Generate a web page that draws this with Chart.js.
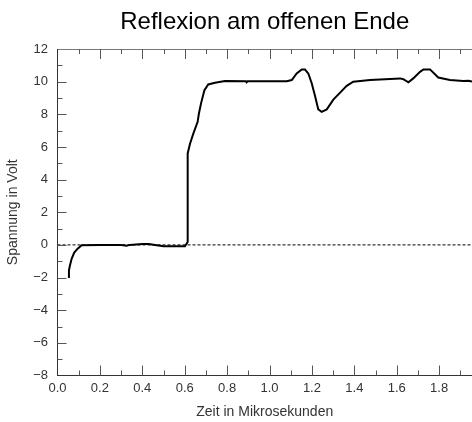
<!DOCTYPE html>
<html>
<head>
<meta charset="utf-8">
<script src="https://cdn.jsdelivr.net/npm/chart.js@4/dist/chart.umd.min.js"></script>
<style>
  html, body { margin: 0; padding: 0; background: #fff; overflow: hidden; }
</style>
</head>
<body>
<canvas id="reflexion" width="472" height="422"></canvas>
<script>
// time in microseconds, voltage in volt
const timeUs = [
    0.054, 0.054, 0.059, 0.067, 0.079, 0.095, 0.114, 0.20, 0.30, 0.326, 0.34,
    0.40, 0.43, 0.46, 0.50, 0.601, 0.614, 0.614, 0.625, 0.641, 0.661, 0.667,
    0.677, 0.693, 0.711, 0.743, 0.79, 0.888, 0.892, 0.896, 1.081, 1.105, 1.128,
    1.152, 1.167, 1.183, 1.199, 1.215, 1.230, 1.246, 1.270, 1.301, 1.333, 1.364,
    1.395, 1.474, 1.616, 1.631, 1.655, 1.678, 1.710, 1.726, 1.757, 1.796, 1.851,
    1.914, 1.938, 1.955
];
const voltage = [
    -2.03, -1.56, -1.25, -0.84, -0.47, -0.23, -0.02, 0.0, 0.0, -0.05, 0.0,
    0.05, 0.05, 0.0, -0.08, -0.08, 0.18, 5.6, 6.2, 6.83, 7.54, 8.05,
    8.67, 9.48, 9.83, 9.93, 10.04, 10.03, 9.96, 10.03, 10.03, 10.1, 10.5,
    10.75, 10.75, 10.5, 9.9, 9.1, 8.3, 8.15, 8.3, 8.9, 9.33, 9.74,
    10.0, 10.1, 10.2, 10.15, 9.96, 10.2, 10.6, 10.75, 10.75, 10.25, 10.1,
    10.04, 10.06, 10.0
];
const xTicks = [0.0, 0.2, 0.4, 0.6, 0.8, 1.0, 1.2, 1.4, 1.6, 1.8];
const yTicks = [-8, -6, -4, -2, 0, 2, 4, 6, 8, 10, 12];

const FONT = "'Liberation Sans', Arial, sans-serif";
const fmt = (v, d) => v.toFixed(d).replace('-', '\u2212');

// ticks pointing into the plot, like the original scope printout
const innerTicks = {
    id: 'innerTicks',
    afterDatasetsDraw(chart) {
        const { ctx, chartArea: a, scales: { x, y } } = chart;
        ctx.save();
        ctx.strokeStyle = '#555';
        ctx.lineWidth = 1;
        ctx.beginPath();
        for (let i = 1; i <= 20; i++) {
            const v = i / 10;
            const px = Math.round(x.getPixelForValue(v)) + 0.5;
            const len = i % 2 === 0 ? 10 : 5;
            ctx.moveTo(px, a.bottom); ctx.lineTo(px, a.bottom - len);
            ctx.moveTo(px, a.top); ctx.lineTo(px, a.top + len);
        }
        const right = Math.round(x.getPixelForValue(2.0)) + 0.5;
        for (let v = -7; v <= 11; v++) {
            const py = Math.round(y.getPixelForValue(v)) + 0.5;
            const len = v % 2 === 0 ? 9 : 5;
            ctx.moveTo(a.left, py); ctx.lineTo(a.left + len, py);
            ctx.moveTo(right, py); ctx.lineTo(right - len, py);
        }
        ctx.stroke();
        ctx.restore();
    }
};

onload = () => {
    const graphic = document.getElementById('reflexion');
    new Chart(graphic, {
        type: 'line',
        data: {
            datasets: [{
                data: timeUs.map((t, i) => ({ x: t, y: voltage[i] })),
                borderColor: '#000',
                borderWidth: 2,
                pointRadius: 0,
                tension: 0
            }, {
                data: [{ x: 0, y: 0 }, { x: 2, y: 0 }],
                borderColor: '#000',
                borderWidth: 1,
                borderDash: [3, 2],
                pointRadius: 0
            }]
        },
        options: {
            responsive: false,
            animation: false,
            devicePixelRatio: 1,
            layout: { padding: 0 },
            plugins: {
                legend: { display: false },
                tooltip: { enabled: false },
                title: {
                    display: true,
                    text: 'Reflexion am offenen Ende',
                    fullSize: false,
                    color: '#000',
                    font: { family: FONT, size: 24, weight: 'normal', lineHeight: 1.2 },
                    padding: { top: 8, bottom: 0 }
                }
            },
            scales: {
                x: {
                    type: 'linear',
                    min: 0,
                    max: 1.955,
                    afterBuildTicks: s => { s.ticks = xTicks.map(v => ({ value: v })); },
                    afterFit: s => { s.height = 46.5; },
                    grid: { display: false, drawTicks: false },
                    border: { display: true, color: '#333', width: 1 },
                    ticks: {
                        color: '#333',
                        padding: 5,
                        maxRotation: 0,
                        font: { family: FONT, size: 13 },
                        callback: v => fmt(v, 1)
                    },
                    title: {
                        display: true,
                        text: 'Zeit in Mikrosekunden',
                        color: '#333',
                        font: { family: FONT, size: 14 },
                        padding: { top: 0, bottom: 1 }
                    }
                },
                x2: {
                    type: 'linear',
                    position: 'top',
                    min: 0,
                    max: 1.955,
                    afterFit: s => { s.height = 12.2; },
                    grid: { display: false, drawTicks: false },
                    border: { display: true, color: '#777', width: 1 },
                    ticks: { display: false }
                },
                y: {
                    type: 'linear',
                    min: -8,
                    max: 12,
                    afterBuildTicks: s => { s.ticks = yTicks.map(v => ({ value: v })); },
                    afterFit: s => { s.width = 57.5; },
                    grid: { display: false, drawTicks: false },
                    border: { display: true, color: '#333', width: 1 },
                    ticks: {
                        color: '#333',
                        padding: 9.5,
                        font: { family: FONT, size: 13 },
                        callback: v => fmt(v, 0)
                    },
                    title: {
                        display: true,
                        text: 'Spannung in Volt',
                        color: '#333',
                        font: { family: FONT, size: 14 },
                        padding: { top: 4.5, bottom: 0 }
                    }
                }
            }
        },
        plugins: [innerTicks]
    });
};
</script>
</body>
</html>
